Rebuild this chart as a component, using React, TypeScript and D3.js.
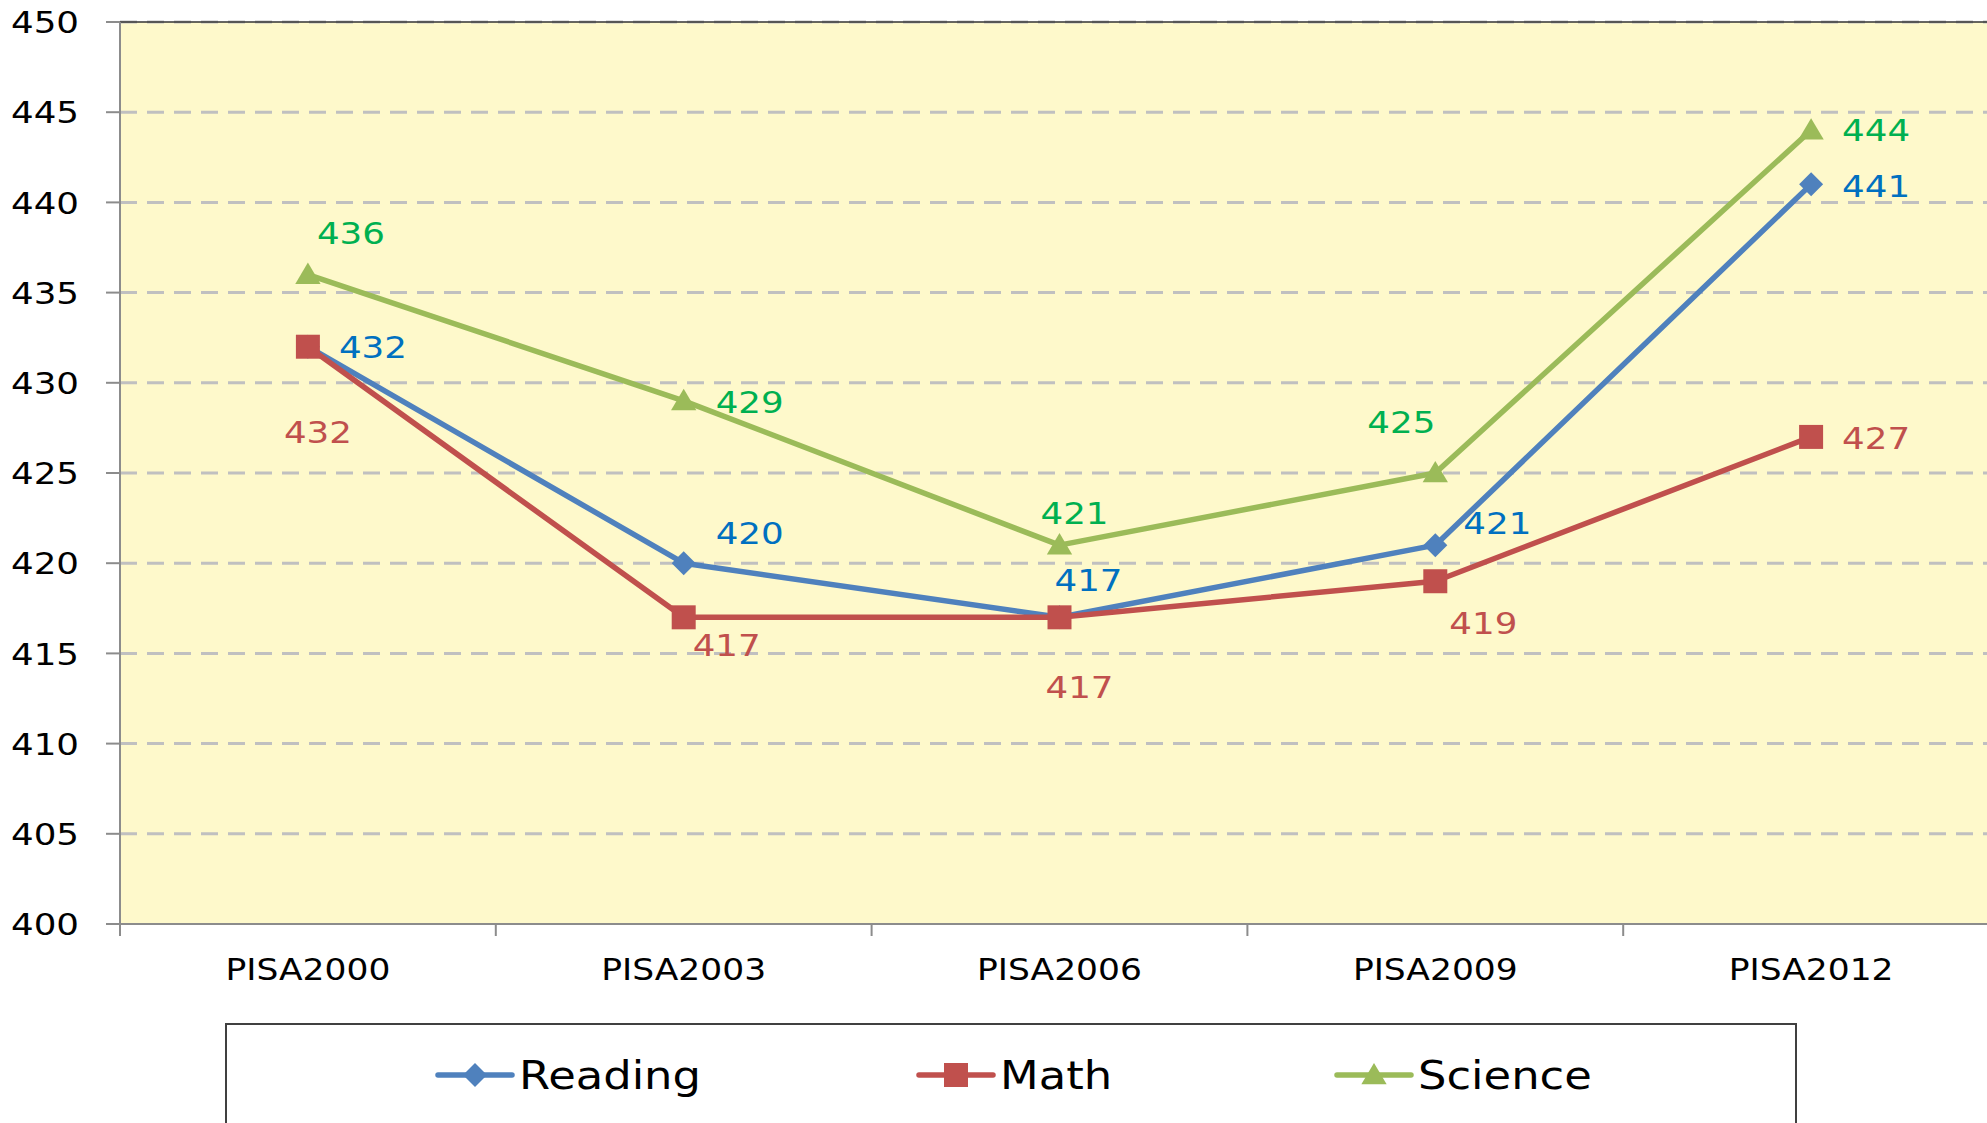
import React, { useEffect, useRef } from "react";
import * as d3 from "d3";

const categories = ["PISA2000", "PISA2003", "PISA2006", "PISA2009", "PISA2012"];
const reading = [432, 420, 417, 421, 441];
const math = [432, 417, 417, 419, 427];
const science = [436, 429, 421, 425, 444];
const yTicks = [400, 405, 410, 415, 420, 425, 430, 435, 440, 445, 450];

// where each value label sits relative to its point (px)
const readingLabelOffsets = [[65, 0], [66, -30], [29, -37], [62, -22], [65, 1]];
const mathLabelOffsets = [[10, 85], [43, 28], [20, 70], [48, 42], [65, 1]];
const scienceLabelOffsets = [[43, -42], [66, 1], [15, -32], [-34, -51], [65, 0]];

const W = 1987;
const H = 1123;
const FONT = "Verdana, 'DejaVu Sans', sans-serif";
const STRETCH = 1.15;

export default function App() {
  const ref = useRef<SVGSVGElement>(null);

  useEffect(() => {
    const svg = d3.select(ref.current);
    svg.selectAll("*").remove();

    const left = 120;
    const right = 1999;
    const top = 22;
    const bottom = 924;

    const x = d3.scaleBand().domain(categories).range([left, right]);
    const cx = (c: string) => (x(c) as number) + x.bandwidth() / 2;
    const y = d3.scaleLinear().domain([400, 450]).range([bottom, top]);

    const text = (
      g: any,
      tx: number,
      ty: number,
      str: string,
      size: number,
      color: string,
      anchor: string
    ) =>
      g
        .append("text")
        .attr("transform", `translate(${tx},${ty}) scale(${STRETCH},1)`)
        .attr("text-anchor", anchor)
        .attr("dy", "0.36em")
        .style("font-family", FONT)
        .style("font-size", `${size}px`)
        .attr("fill", color)
        .text(str);

    svg.append("rect").attr("width", W).attr("height", H).attr("fill", "#ffffff");

    svg
      .append("rect")
      .attr("x", left)
      .attr("y", top)
      .attr("width", right - left)
      .attr("height", bottom - top)
      .attr("fill", "#fef9cb");

    // gridlines
    svg
      .append("g")
      .selectAll("line")
      .data(yTicks.filter((t) => t !== 400))
      .join("line")
      .attr("x1", left)
      .attr("x2", right)
      .attr("y1", (d) => y(d))
      .attr("y2", (d) => y(d))
      .attr("stroke", "#c0c0c0")
      .attr("stroke-width", 3)
      .attr("stroke-dasharray", "17,10");

    svg
      .append("line")
      .attr("x1", left)
      .attr("x2", right)
      .attr("y1", y(450))
      .attr("y2", y(450))
      .attr("stroke", "#333333")
      .attr("stroke-width", 1.5);

    // y axis
    svg
      .append("line")
      .attr("x1", left)
      .attr("x2", left)
      .attr("y1", top)
      .attr("y2", bottom + 12)
      .attr("stroke", "#8c8c8c")
      .attr("stroke-width", 2);
    svg
      .append("g")
      .selectAll("line")
      .data(yTicks)
      .join("line")
      .attr("x1", left - 14)
      .attr("x2", left)
      .attr("y1", (d) => y(d))
      .attr("y2", (d) => y(d))
      .attr("stroke", "#8c8c8c")
      .attr("stroke-width", 2);
    const yl = svg.append("g");
    yTicks.forEach((t) => text(yl, 79, y(t), String(t), 31, "#000000", "end"));

    // x axis
    svg
      .append("line")
      .attr("x1", left)
      .attr("x2", right)
      .attr("y1", bottom)
      .attr("y2", bottom)
      .attr("stroke", "#8c8c8c")
      .attr("stroke-width", 2);
    svg
      .append("g")
      .selectAll("line")
      .data(categories.slice(1))
      .join("line")
      .attr("x1", (d) => x(d) as number)
      .attr("x2", (d) => x(d) as number)
      .attr("y1", bottom)
      .attr("y2", bottom + 12)
      .attr("stroke", "#8c8c8c")
      .attr("stroke-width", 2);
    const xl = svg.append("g");
    categories.forEach((c) => text(xl, cx(c), 969, c, 30, "#000000", "middle"));

    const series = [
      { name: "Reading", values: reading, line: "#4f81bd", label: "#0070c0", marker: "diamond", offsets: readingLabelOffsets },
      { name: "Math", values: math, line: "#c0504d", label: "#c0504d", marker: "square", offsets: mathLabelOffsets },
      { name: "Science", values: science, line: "#9bbb59", label: "#00b050", marker: "triangle", offsets: scienceLabelOffsets },
    ];

    const markerPath = (kind: string, px: number, py: number, s: number) => {
      if (kind === "diamond") return `M${px},${py - s}L${px + s},${py}L${px},${py + s}L${px - s},${py}Z`;
      if (kind === "square") return `M${px - s},${py - s}h${2 * s}v${2 * s}h${-2 * s}Z`;
      return `M${px},${py - s * 1.1}L${px + s * 1.15},${py + s * 0.85}L${px - s * 1.15},${py + s * 0.85}Z`;
    };
    const markerSize: any = { diamond: 12, square: 12, triangle: 11 };

    const line = d3
      .line<number>()
      .x((_, i) => cx(categories[i]))
      .y((d) => y(d));

    series.forEach((s) => {
      const g = svg.append("g");
      g.append("path")
        .attr("d", line(s.values))
        .attr("fill", "none")
        .attr("stroke", s.line)
        .attr("stroke-width", 5.5)
        .attr("stroke-linejoin", "round");
      g.selectAll("path.m")
        .data(s.values)
        .join("path")
        .attr("class", "m")
        .attr("d", (d, i) => markerPath(s.marker, cx(categories[i]), y(d), markerSize[s.marker]))
        .attr("fill", s.line);
    });

    series.forEach((s) => {
      const g = svg.append("g");
      s.values.forEach((v, i) => {
        const [dx, dy] = s.offsets[i];
        text(g, cx(categories[i]) + dx, y(v) + dy, String(v), 31, s.label, "middle");
      });
    });

    // legend
    const lg = svg.append("g");
    lg.append("rect")
      .attr("x", 226)
      .attr("y", 1024)
      .attr("width", 1570)
      .attr("height", 130)
      .attr("fill", "#ffffff")
      .attr("stroke", "#404040")
      .attr("stroke-width", 2);
    const legendX = [438, 919, 1337];
    series.forEach((s, i) => {
      const lx = legendX[i];
      const ly = 1075;
      lg.append("line")
        .attr("x1", lx)
        .attr("x2", lx + 74)
        .attr("y1", ly)
        .attr("y2", ly)
        .attr("stroke", s.line)
        .attr("stroke-width", 5.5)
        .attr("stroke-linecap", "round");
      lg.append("path")
        .attr("d", markerPath(s.marker, lx + 37, ly, markerSize[s.marker]))
        .attr("fill", s.line);
      text(lg, lx + 81, ly, s.name, 39, "#000000", "start");
    });
  }, []);

  return (
    <svg
      ref={ref}
      width={W}
      height={H}
      style={{ position: "absolute", left: 0, top: 0, display: "block" }}
    />
  );
}
